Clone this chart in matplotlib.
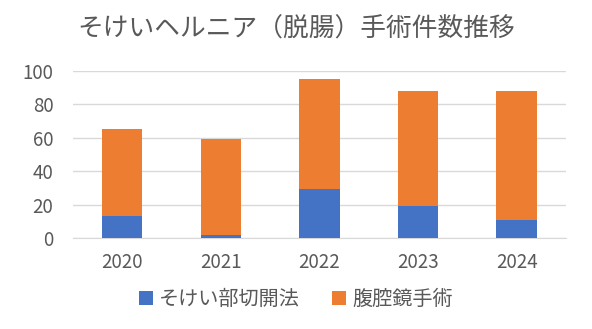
import matplotlib.pyplot as plt
import numpy as np

plt.rcParams['font.family'] = ['Noto Sans CJK JP', 'DejaVu Sans']

years = ['2020', '2021', '2022', '2023', '2024']
open_surgery = [13, 2, 29, 19, 11]
laparoscopic = [52, 57, 66, 69, 77]

title = 'そけいヘルニア（脱腸）手術件数推移'
labels = ['そけい部切開法', '腹腔鏡手術']
colors = ['#4472C4', '#ED7D31']
text_color = '#595959'

fig = plt.figure(figsize=(5.92, 3.29), dpi=100)
ax = fig.add_axes([0.123, 0.277, 0.833, 0.507])

x = np.arange(len(years))
w = 0.41
ax.bar(x, open_surgery, w, color=colors[0], label=labels[0], zorder=3)
ax.bar(x, laparoscopic, w, bottom=open_surgery, color=colors[1], label=labels[1], zorder=3)

ax.set_xlim(-0.5, len(years) - 0.5)
ax.set_ylim(0, 100)
ax.set_yticks(range(0, 101, 20))
ax.set_xticks(x)
ax.set_xticklabels(years)
ax.yaxis.grid(True, color='#d9d9d9', linewidth=1, zorder=0)
for s in ['top', 'right', 'left']:
    ax.spines[s].set_visible(False)
ax.spines['bottom'].set_color('#d9d9d9')
ax.tick_params(axis='both', length=0, labelsize=13.5, labelcolor=text_color)
ax.tick_params(axis='y', pad=14)
ax.tick_params(axis='x', pad=10)

fig.text(0.5, 0.91, title, ha='center', va='center', fontsize=18.5, color=text_color)

fig.legend(loc='center', bbox_to_anchor=(0.5, 0.09), ncol=2, frameon=False,
           fontsize=14.5, labelcolor=text_color, handlelength=0.7, handleheight=0.7,
           handletextpad=0.3, columnspacing=1.6)

fig.savefig('out.png', dpi=100)
